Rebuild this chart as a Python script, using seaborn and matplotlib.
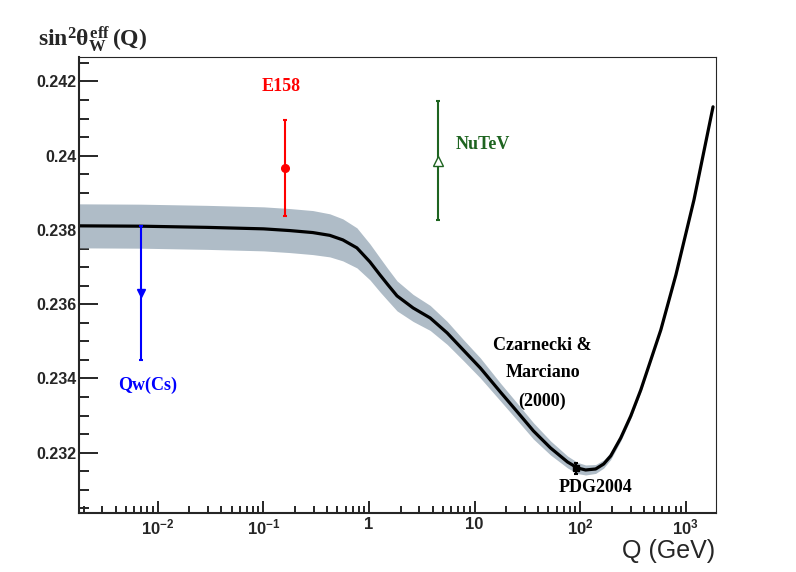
import numpy as np
import pandas as pd
import matplotlib
matplotlib.use("Agg")
import matplotlib.pyplot as plt
from matplotlib.ticker import MultipleLocator, FuncFormatter, LogLocator, FixedLocator, FixedFormatter
import seaborn as sns

# Czarnecki & Marciano running of sin^2(theta_W)
q_curve = [0.0018, 0.00698, 0.0296, 0.1007, 0.178, 0.294, 0.426, 0.566, 0.769, 1.022,
           1.272, 1.515, 1.845, 2.617, 3.795, 5.505, 7.81, 11.33, 17.54, 25.44,
           36.1, 52.4, 75.9, 94.5, 112.5, 140.0, 166.9, 194.4, 241.9, 301.1,
           374.6, 466.4, 580.0, 805.4, 1194, 1809]
s_curve = [0.238111, 0.238102, 0.238070, 0.238030, 0.237984, 0.237930, 0.237855, 0.237733, 0.237518, 0.237140,
           0.236790, 0.236520, 0.236224, 0.235900, 0.235631, 0.235226, 0.234768, 0.234283, 0.233636, 0.233097,
           0.232585, 0.232127, 0.231749, 0.231588, 0.231534, 0.231561, 0.231696, 0.231912, 0.232396, 0.232989,
           0.233690, 0.234501, 0.235310, 0.236790, 0.238811, 0.241318]
band_hw = [0.000593, 0.000593, 0.000593, 0.000593, 0.000593, 0.000593, 0.00058, 0.000566, 0.000539, 0.000485,
           0.000458, 0.000431, 0.000404, 0.000364, 0.000337, 0.00031, 0.000283, 0.00027, 0.00024, 0.00023,
           0.00022, 0.00019, 0.00016, 0.00015, 0.000135, 0.00012, 0.00011, 0.000095, 0.00008, 0.00007,
           0.000055, 0.00004, 0.00004, 0.00004, 0.00004, 0.00006]

# measurements
exp_names = ["Qw(Cs)", "E158", "NuTeV", "PDG2004"]
exp_q = [0.0070, 0.159, 4.55, 91.19]
exp_s = [0.23630, 0.23967, 0.23987, 0.23158]
exp_err = [0.0018, 0.0013, 0.0016, 0.00015]

y_ticks = [0.232, 0.234, 0.236, 0.238, 0.240, 0.242]
x_ticks = [1e-2, 1e-1, 1, 10, 1e2, 1e3]
x_ticklabels = [r"$\mathsf{10^{-2}}$", r"$\mathsf{10^{-1}}$", "1", "10", r"$\mathsf{10^{2}}$", r"$\mathsf{10^{3}}$"]

sns.set_style("ticks")
plt.rcParams["font.family"] = ["Liberation Sans", "DejaVu Sans"]
plt.rcParams["mathtext.fontset"] = "custom"
plt.rcParams["mathtext.rm"] = "Liberation Serif:bold"
plt.rcParams["mathtext.it"] = "Liberation Serif:bold"
plt.rcParams["mathtext.bf"] = "Liberation Serif:bold"
plt.rcParams["mathtext.sf"] = "Liberation Sans:bold"

W, H = 796, 572
fig = plt.figure(figsize=(W / 100, H / 100), dpi=100)
ax = fig.add_axes([79 / W, 59 / H, 637 / W, 456 / H])

df = pd.DataFrame({"Q": q_curve, "s": s_curve, "hw": band_hw})
ax.fill_between(df["Q"], df["s"] - df["hw"], df["s"] + df["hw"], color="#afbcc7", lw=0, zorder=1)
sns.lineplot(data=df, x="Q", y="s", sort=False, color="black", lw=2.3, ax=ax, zorder=2)

styles = {
    "Qw(Cs)": dict(color="#0000ff", marker="v", mfc="#0000ff", ms=6),
    "E158": dict(color="#ff0000", marker="o", mfc="#ff0000", ms=5.5),
    "NuTeV": dict(color="#1e6420", marker="^", mfc="white", ms=7),
    "PDG2004": dict(color="black", marker="s", mfc="black", ms=5),
}
for name, q, s, e in zip(exp_names, exp_q, exp_s, exp_err):
    st = styles[name]
    ax.errorbar([q], [s], yerr=[e], fmt=st["marker"], color=st["color"], mfc=st["mfc"],
                mec=st["color"], ms=st["ms"], elinewidth=1.5, capsize=1.6, capthick=1.5, zorder=3)

ax.set_xscale("log")
ax.set_xlim(0.0018, 1930)
ax.set_ylim(0.230375, 0.24266)
ax.set_xlabel("")
ax.set_ylabel("")

# ROOT-like axes
for side in ["left", "bottom"]:
    ax.spines[side].set_linewidth(1.5)
for side in ["top", "right"]:
    ax.spines[side].set_linewidth(0.8)
    ax.spines[side].set_visible(True)

ax.yaxis.set_major_locator(FixedLocator(y_ticks))
ax.yaxis.set_minor_locator(MultipleLocator(0.0005))
ax.yaxis.set_major_formatter(FuncFormatter(lambda v, p: f"{round(v, 4):g}"))
ax.xaxis.set_major_locator(FixedLocator(x_ticks))
ax.xaxis.set_major_formatter(FixedFormatter(x_ticklabels))
ax.xaxis.set_minor_locator(LogLocator(base=10, subs=np.arange(2, 10), numticks=20))

ax.tick_params(axis="y", which="major", direction="in", length=13.5, width=1.4, pad=2,
               labelsize=11.5, left=True, right=False)
ax.tick_params(axis="y", which="minor", direction="in", length=7.2, width=1.4, left=True, right=False)
ax.tick_params(axis="x", which="major", direction="in", length=9, width=1.4, pad=3,
               labelsize=12, bottom=True, top=False)
ax.tick_params(axis="x", which="minor", direction="in", length=4.7, width=1.4, bottom=True, top=False)
for lab in ax.get_xticklabels() + ax.get_yticklabels():
    lab.set_fontweight("bold")

# annotations
serif = ["Liberation Serif", "DejaVu Serif"]
ax.text(0.149, 0.24186, "E158", color="#ff0000", family=serif, weight="bold", fontsize=13,
        ha="center", va="center")
ax.text(12.1, 0.24029, "NuTeV", color="#1e6420", family=serif, weight="bold", fontsize=13,
        ha="center", va="center")
ax.text(0.00805, 0.23382, "Qw(Cs)", color="#0000ff", family=serif, weight="bold", fontsize=13,
        ha="center", va="center")
ax.text(44, 0.23490, "Czarnecki &", color="black", family=serif, weight="bold", fontsize=13,
        ha="center", va="center")
ax.text(44, 0.23415, "Marciano", color="black", family=serif, weight="bold", fontsize=13,
        ha="center", va="center")
ax.text(44, 0.23337, "(2000)", color="black", family=serif, weight="bold", fontsize=13,
        ha="center", va="center")
ax.text(140, 0.23105, "PDG2004", color="black", family=serif, weight="bold", fontsize=13,
        ha="center", va="center")

fig.text(93 / W, 1 - 40 / H, r"$\mathrm{sin}^{\mathrm{2}}\theta^{\mathrm{eff}}_{\mathrm{W}}\,\mathrm{(Q)}$",
         fontsize=17, ha="center", va="center")
fig.text(715 / W, 1 - 551 / H, "Q (GeV)", fontsize=18, ha="right", va="center")

fig.savefig("out.png", dpi=100)
